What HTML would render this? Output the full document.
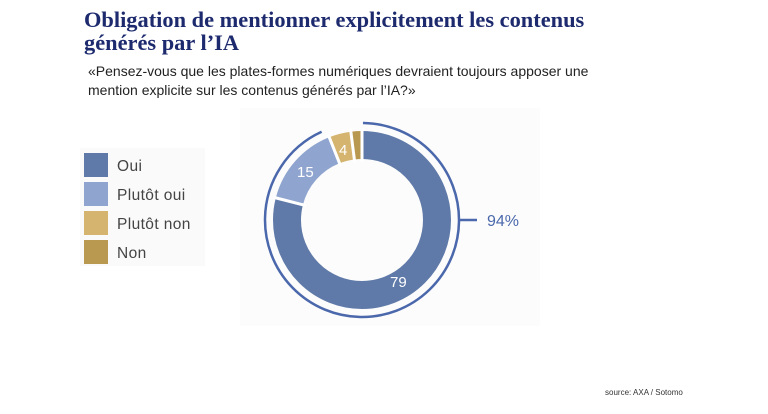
<!DOCTYPE html>
<html><head><meta charset="utf-8"><style>
body{margin:0;width:768px;height:414px;background:#fff;position:relative;overflow:hidden;font-family:"Liberation Sans",sans-serif}
.t{position:absolute;left:84px;top:8px;font-family:"Liberation Serif",serif;font-weight:bold;color:#1d2a6e;font-size:22.4px;line-height:23px}
.s{position:absolute;left:88px;top:62px;font-size:14px;line-height:19px;color:#222}
.src{position:absolute;left:605px;top:388px;font-size:8px;color:#333}
</style></head><body>
<div class="t">Obligation de mentionner explicitement les contenus<br>générés par l’IA</div>
<div class="s">«Pensez-vous que les plates-formes numériques devraient toujours apposer une<br>mention explicite sur les contenus générés par l’IA?»</div>
<svg width="768" height="414" style="position:absolute;left:0;top:0">
<rect x="240" y="108" width="300" height="218" fill="#fcfcfc"/>
<rect x="80" y="148" width="125" height="118" fill="#fafafa"/>
<rect x="84" y="153" width="24" height="24" fill="#5f7aa8"/>
<rect x="84" y="182" width="24" height="24" fill="#8fa5cf"/>
<rect x="84" y="211" width="24" height="24" fill="#d4b46e"/>
<rect x="84" y="240" width="24" height="24" fill="#b8994f"/>
<g font-size="15.5" fill="#444" letter-spacing="0.4">
<text x="117" y="171">Oui</text><text x="117" y="200">Plutôt oui</text>
<text x="117" y="229">Plutôt non</text><text x="117" y="258">Non</text></g>
<g transform="translate(362,220)" fill="none" stroke-width="28">
<circle r="75" stroke="#5f7aa8" pathLength="100" stroke-dasharray="79 21" transform="rotate(-90)"/>
<circle r="75" stroke="#8fa5cf" pathLength="100" stroke-dasharray="15 85" transform="rotate(194.4)"/>
<circle r="75" stroke="#d4b46e" pathLength="100" stroke-dasharray="4 96" transform="rotate(248.4)"/>
<circle r="75" stroke="#b8994f" pathLength="100" stroke-dasharray="2 98" transform="rotate(262.8)"/>
<g stroke="#fff" stroke-width="3">
<line x1="0" y1="-58" x2="0" y2="-92"/>
<line x1="0" y1="-58" x2="0" y2="-92" transform="rotate(284.4)"/>
<line x1="0" y1="-58" x2="0" y2="-92" transform="rotate(338.4)"/>
<line x1="0" y1="-58" x2="0" y2="-92" transform="rotate(352.8)"/>
</g>
<circle r="97" stroke="#4a68ab" stroke-width="2.5" pathLength="100" stroke-dasharray="93 7" transform="rotate(-89)"/>
<line x1="97" y1="0" x2="115" y2="0" stroke="#4a68ab" stroke-width="2.5"/>
</g>
<text x="487" y="226" font-size="16" fill="#4a68ab">94%</text>
<g font-size="15" fill="#fff">
<text x="390" y="287">79</text><text x="297" y="177">15</text><text x="339" y="155">4</text></g>
</svg>
<div class="src">source: AXA / Sotomo</div>
</body></html>
